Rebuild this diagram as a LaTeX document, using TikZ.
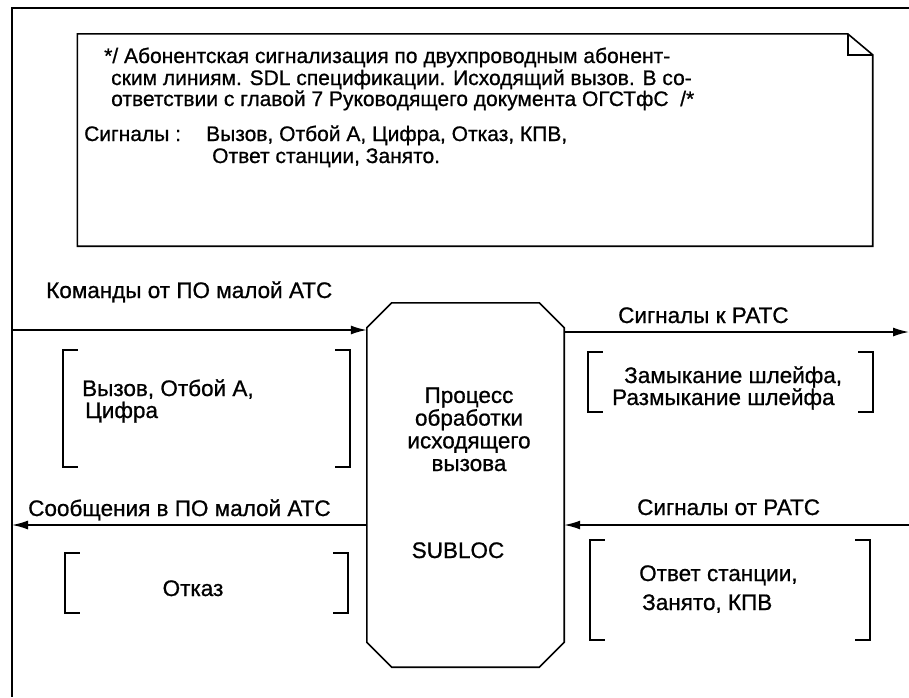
\documentclass[tikz,border=0pt]{standalone}
\usepackage{fontspec}
\setmainfont{Liberation Sans}[RawFeature={embolden=0.8}]
\usetikzlibrary{arrows.meta,calc}
\tikzset{
  line/.style={line width=1.6pt},
  arr/.style={line width=1.6pt,-{Latex[length=16pt,width=9pt]}},
  lbl/.style={font=\fontsize{22.5}{26}\selectfont,inner sep=0pt},
  note/.style={font=\fontsize{21}{24}\selectfont,inner sep=0pt},
  grp/.style={draw=none,inner sep=0pt,minimum width=#1},
}
\newcommand\mybrackets[1]{%
  \draw[line] ([xshift=15pt]#1.north west) -- (#1.north west) -- (#1.south west) -- ([xshift=15pt]#1.south west);
  \draw[line] ([xshift=-15pt]#1.north east) -- (#1.north east) -- (#1.south east) -- ([xshift=-15pt]#1.south east);}
\begin{document}
\begin{tikzpicture}[x=1pt,y=-1pt]
\useasboundingbox (0,0) rectangle (909,697);
% outer frame
\coordinate (ftr) at (909,8);
\coordinate (ftl) at (12,8);
\coordinate (fbl) at (12,697);
\draw[line] (ftr) -- (ftl) -- (fbl);
% note box
\node[inner sep=0pt,minimum width=795,minimum height=212] (notebox) at (475,140) {};
\draw[line] (notebox.north west) -- ([xshift=-25pt]notebox.north east) -- ([yshift=-21pt]notebox.north east) -- (notebox.south east) -- (notebox.south west) -- cycle;
\draw[line] ([xshift=-25pt]notebox.north east) -- ([xshift=-25pt,yshift=-21pt]notebox.north east) -- ([yshift=-21pt]notebox.north east);
\node[note,anchor=base west] (n1) at (104,63) {*/ Абонентская сигнализация по двухпроводным абонент-};
\node[note,anchor=base west] (n2) at (111,85) {ским линиям. SDL спецификации. Исходящий вызов. В со-};
\node[note,anchor=base west] (n3) at (111,106) {ответствии с главой 7 Руководящего документа ОГСТфС\ \ /*};
\node[note,anchor=base west] (n4) at (84,141) {Сигналы :};
\node[note,anchor=base west] (n5) at (206,141) {Вызов, Отбой А, Цифра, Отказ, КПВ,};
\node[note,anchor=base west] (n6) at (212,163) {Ответ станции, Занято.};
% process
\node[inner sep=0pt,minimum width=197,minimum height=364] (proc) at (465.5,485) {};
\draw[line] ([xshift=25pt]proc.north west) -- ([xshift=-25pt]proc.north east) -- ([yshift=-25pt]proc.north east)
  -- ([yshift=25pt]proc.south east) -- ([xshift=-25pt]proc.south east) -- ([xshift=25pt]proc.south west)
  -- ([yshift=25pt]proc.south west) -- ([yshift=-25pt]proc.north west) -- cycle;
\node[lbl,align=center,font=\fontsize{22.5}{22.7}\selectfont,anchor=base] (ptext) at (469,471) {Процесс\\обработки\\исходящего\\вызова};
\node[lbl,anchor=base] (sub) at (458,558) {SUBLOC};
% arrows
\coordinate (inA) at (12,330);
\draw[arr] (inA) -- (inA -| proc.west);
\coordinate (outA) at (909,332);
\draw[arr] (outA -| proc.east) -- (outA);
\coordinate (outB) at (12,525);
\draw[arr] (outB -| proc.west) -- (outB);
\coordinate (inB) at (909,525);
\draw[arr] (inB) -- (inB -| proc.east);
% labels
\node[lbl,anchor=base west] (cmd) at (46,298) {Команды от ПО малой АТС};
\node[lbl,anchor=base west] (tor) at (618,323) {Сигналы к РАТС};
\node[lbl,anchor=base west] (msg) at (28,516) {Сообщения в ПО малой АТС};
\node[lbl,anchor=base west] (frr) at (637,515) {Сигналы от РАТС};
% bracket groups
\node[grp=287,minimum height=117] (g1) at (206.5,408.5) {};
\mybrackets{g1}
\node[lbl,anchor=base west] (g1a) at (82,396) {Вызов, Отбой А,};
\node[lbl,anchor=base west] (g1b) at (85,418) {Цифра};
\node[grp=283,minimum height=60] (g2) at (206.5,583) {};
\mybrackets{g2}
\node[lbl,anchor=base] (g2a) at (193,596) {Отказ};
\node[grp=285,minimum height=60] (g3) at (730.5,382) {};
\mybrackets{g3}
\node[lbl,anchor=base west] (g3a) at (624,383) {Замыкание шлейфа,};
\node[lbl,anchor=base west] (g3b) at (612,405) {Размыкание шлейфа};
\node[grp=280,minimum height=100] (g4) at (730,590) {};
\mybrackets{g4}
\node[lbl,anchor=base west] (g4a) at (639,581) {Ответ станции,};
\node[lbl,anchor=base west] (g4b) at (642,610) {Занято, КПВ};
\end{tikzpicture}
\end{document}
